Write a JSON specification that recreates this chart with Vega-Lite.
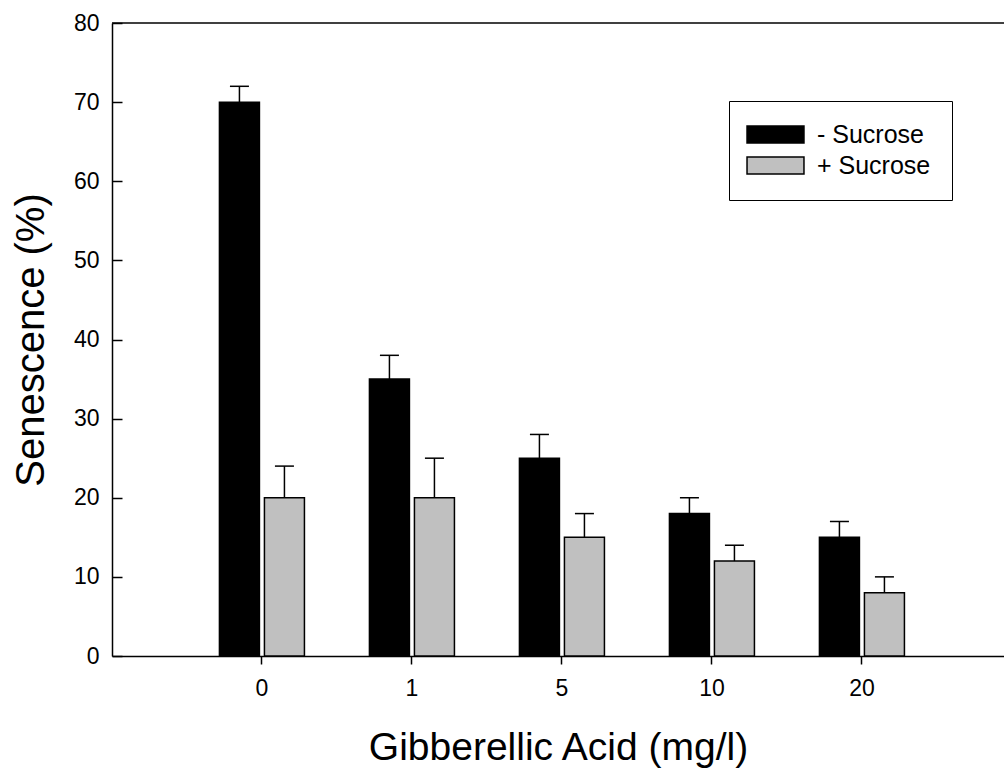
{
  "$schema": "https://vega.github.io/schema/vega-lite/v6.json",
  "width": 892,
  "height": 633,
  "autosize": {"type": "none"},
  "padding": {"left": 112, "top": 23, "right": 0, "bottom": 112},
  "background": "white",
  "config": {
    "view": {"stroke": null},
    "font": "Liberation Sans",
    "axis": {
      "labelFont": "Liberation Sans",
      "titleFont": "Liberation Sans",
      "labelColor": "black",
      "titleColor": "black",
      "domainColor": "black",
      "tickColor": "black",
      "domainWidth": 1.5,
      "tickWidth": 1.5,
      "grid": false,
      "titleFontWeight": "normal",
      "labelFontSize": 23
    },
    "legend": {
      "orient": "none",
      "legendX": 617,
      "legendY": 78,
      "strokeColor": "black",
      "fillColor": "white",
      "padding": 21,
      "symbolSize": 289,
      "symbolStrokeColor": "black",
      "symbolStrokeWidth": 1.5,
      "symbolOffset": 13,
      "labelOffset": 29,
      "labelFontSize": 25,
      "labelFont": "Liberation Sans",
      "labelColor": "black",
      "rowPadding": 5,
      "labelLimit": 0
    }
  },
  "data": {
    "values": [
      {"ga": "0", "sucrose": "- Sucrose", "value": 70, "upper": 72},
      {"ga": "0", "sucrose": "+ Sucrose", "value": 20, "upper": 24},
      {"ga": "1", "sucrose": "- Sucrose", "value": 35, "upper": 38},
      {"ga": "1", "sucrose": "+ Sucrose", "value": 20, "upper": 25},
      {"ga": "5", "sucrose": "- Sucrose", "value": 25, "upper": 28},
      {"ga": "5", "sucrose": "+ Sucrose", "value": 15, "upper": 18},
      {"ga": "10", "sucrose": "- Sucrose", "value": 18, "upper": 20},
      {"ga": "10", "sucrose": "+ Sucrose", "value": 12, "upper": 14},
      {"ga": "20", "sucrose": "- Sucrose", "value": 15, "upper": 17},
      {"ga": "20", "sucrose": "+ Sucrose", "value": 8, "upper": 10}
    ]
  },
  "layer": [
    {
      "mark": {"type": "bar", "stroke": "black", "strokeWidth": 1.5},
      "encoding": {
        "x": {
          "field": "ga", "type": "nominal", "sort": ["0", "1", "5", "10", "20"],
          "scale": {"paddingInner": 0.4333, "paddingOuter": 0.69, "align": 0.519},
          "axis": {"title": "Gibberellic Acid (mg/l)", "labelAngle": 0, "tickSize": 8, "labelPadding": 13, "titlePadding": 28, "titleFontSize": 39}
        },
        "xOffset": {"field": "sucrose", "type": "nominal", "sort": ["- Sucrose", "+ Sucrose"], "scale": {"paddingInner": 0.111}},
        "y": {
          "field": "value", "type": "quantitative", "scale": {"domain": [0, 80]},
          "axis": {"title": "Senescence (%)", "values": [0, 10, 20, 30, 40, 50, 60, 70, 80], "tickSize": -10, "labelPadding": 23, "titlePadding": 22, "titleFontSize": 40}
        },
        "color": {
          "field": "sucrose", "type": "nominal",
          "scale": {"domain": ["- Sucrose", "+ Sucrose"], "range": ["black", "#c0c0c0"]},
          "legend": {"title": null, "symbolType": "M-3.35,-1H3.35V1H-3.35Z"}
        }
      }
    },
    {
      "mark": {"type": "rule", "color": "black", "strokeWidth": 1.5},
      "encoding": {
        "x": {"field": "ga", "type": "nominal", "sort": ["0", "1", "5", "10", "20"]},
        "xOffset": {"field": "sucrose", "type": "nominal", "sort": ["- Sucrose", "+ Sucrose"]},
        "y": {"field": "value", "type": "quantitative"},
        "y2": {"field": "upper"}
      }
    },
    {
      "mark": {"type": "point", "shape": "M-1,0H1", "size": 361, "filled": false, "color": "black", "strokeWidth": 1.5, "opacity": 1},
      "encoding": {
        "x": {"field": "ga", "type": "nominal", "sort": ["0", "1", "5", "10", "20"]},
        "xOffset": {"field": "sucrose", "type": "nominal", "sort": ["- Sucrose", "+ Sucrose"]},
        "y": {"field": "upper", "type": "quantitative"}
      }
    },
    {
      "data": {"values": [{}]},
      "mark": {"type": "rule", "color": "black", "strokeWidth": 1.5},
      "encoding": {"y": {"datum": 80}}
    }
  ]
}
